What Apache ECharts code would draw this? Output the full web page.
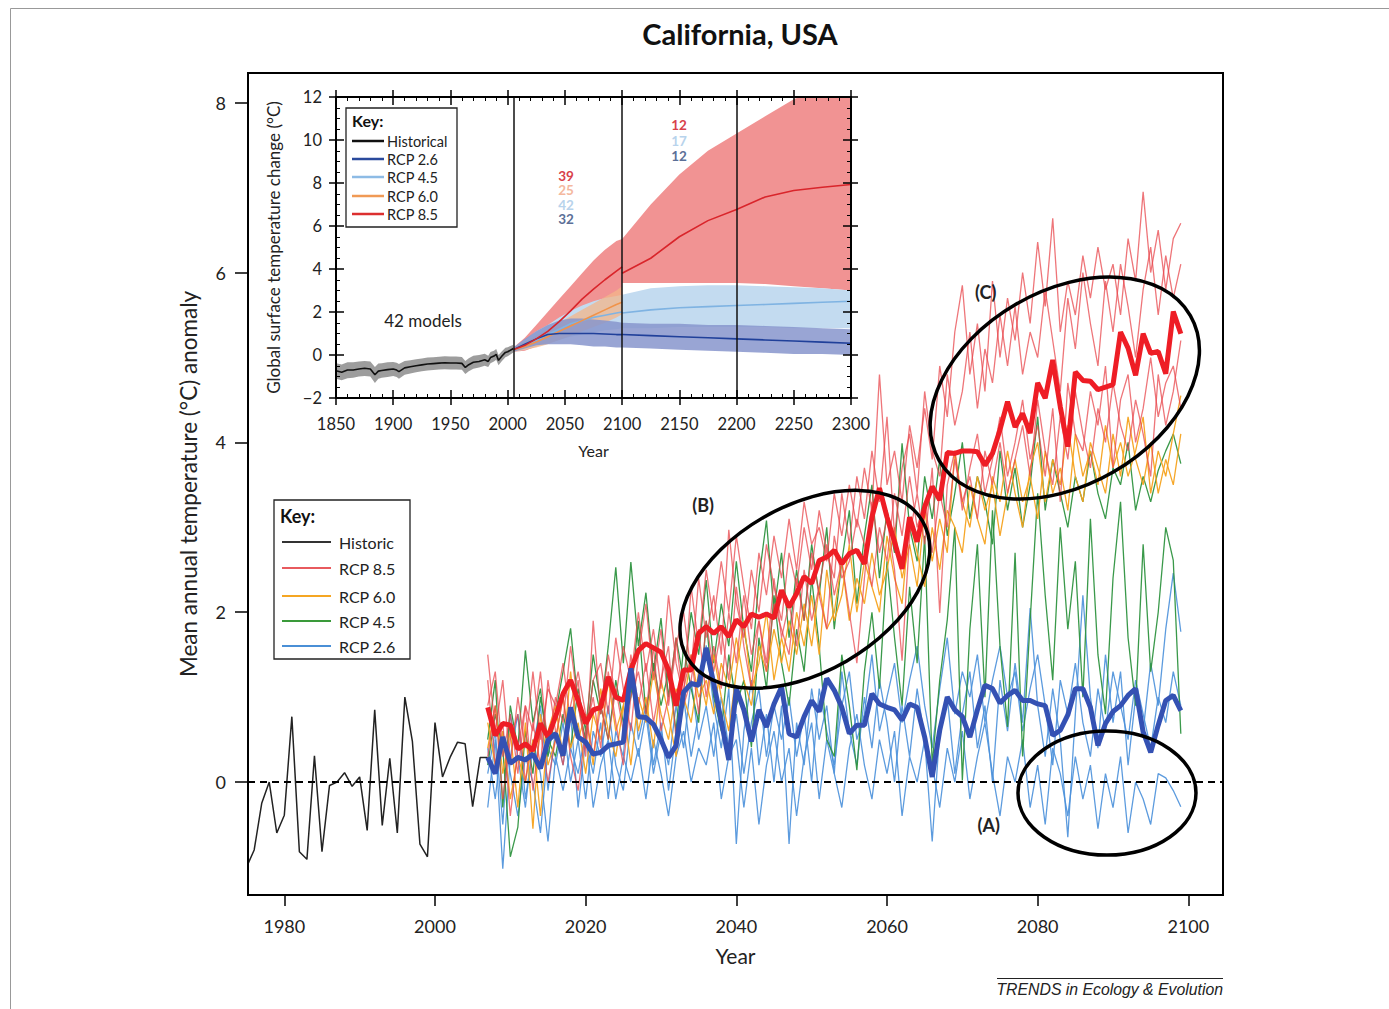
<!DOCTYPE html>
<html><head><meta charset="utf-8">
<script src="https://cdn.jsdelivr.net/npm/echarts@6/dist/echarts.min.js"></script>
<style>html,body{margin:0;padding:0;background:#fff}#c{width:1389px;height:1009px}</style>
</head><body><div id="c"></div>
<script>
// ---------------- MAIN CHART DATA ----------------
const mainXTicks = [1980, 2000, 2020, 2040, 2060, 2080, 2100];
const mainYTicks = [0, 2, 4, 6, 8];

const histYears = [1975,1976,1977,1978,1979,1980,1981,1982,1983,1984,1985,1986,1987,1988,1989,1990,1991,1992,1993,1994,1995,1996,1997,1998,1999,2000,2001,2002,2003,2004,2005,2006,2007];
const histValues = [-1.0,-0.80,-0.25,0.0,-0.60,-0.39,0.77,-0.82,-0.91,0.31,-0.82,-0.04,0.0,0.11,-0.05,0.06,-0.57,0.85,-0.51,0.28,-0.60,1.0,0.48,-0.73,-0.88,0.70,0.06,0.29,0.47,0.45,-0.29,0.29,0.29];

const projYears = [2007,2008,2009,2010,2011,2012,2013,2014,2015,2016,
2017,2018,2019,2020,2021,2022,2023,2024,2025,2026,
2027,2028,2029,2030,2031,2032,2033,2034,2035,2036,
2037,2038,2039,2040,2041,2042,2043,2044,2045,2046,
2047,2048,2049,2050,2051,2052,2053,2054,2055,2056,
2057,2058,2059,2060,2061,2062,2063,2064,2065,2066,
2067,2068,2069,2070,2071,2072,2073,2074,2075,2076,
2077,2078,2079,2080,2081,2082,2083,2084,2085,2086,
2087,2088,2089,2090,2091,2092,2093,2094,2095,2096,
2097,2098,2099];

const rcp85Mean = [0.88,0.55,0.69,0.67,0.39,0.45,0.37,0.69,0.53,0.77,
1.04,1.20,0.96,0.69,0.85,0.88,1.24,1.00,0.96,1.32,
1.55,1.63,1.58,1.53,1.32,0.90,1.32,1.32,1.75,1.83,
1.75,1.83,1.71,1.91,1.83,1.98,1.94,1.98,1.93,2.26,
2.06,2.22,2.42,2.34,2.61,2.65,2.73,2.57,2.69,2.73,
2.57,3.12,3.46,3.12,2.83,2.51,3.12,2.83,3.24,3.48,
3.32,3.88,3.87,3.90,3.90,3.89,3.73,3.87,4.15,4.48,
4.18,4.34,4.11,4.70,4.52,4.97,4.42,3.95,4.83,4.73,
4.72,4.62,4.65,4.68,5.30,5.11,4.79,5.28,5.05,5.07,
4.81,5.54,5.28];

const rcp26Mean = [0.29,0.10,0.53,0.22,0.29,0.26,0.33,0.16,0.49,0.57,
0.31,0.88,0.53,0.47,0.33,0.35,0.43,0.45,0.47,1.34,
0.77,0.76,0.68,0.50,0.29,0.43,1.06,1.16,1.14,1.58,
1.16,0.72,0.26,1.10,0.85,0.48,0.85,0.65,0.92,1.12,
0.57,0.53,0.77,0.96,0.83,1.22,1.08,0.88,0.57,0.67,
0.67,1.04,0.92,0.88,0.85,0.73,0.92,0.88,0.53,0.06,
0.61,1.00,0.85,0.77,0.53,0.85,1.14,1.10,0.93,1.02,
1.08,0.96,0.96,0.92,0.90,0.55,0.61,0.79,1.10,1.10,
0.88,0.43,0.69,0.83,0.90,1.02,1.10,0.59,0.35,0.67,
0.96,1.02,0.84];

const rcp85Run1 = [1.5,0.6,1.2,0.2,1.0,0.4,1.3,0.5,1.1,0.9,
1.4,0.7,1.2,0.3,1.9,0.8,1.5,1.0,1.6,1.2,
2.0,1.3,1.8,1.1,2.2,1.4,1.0,2.3,1.6,2.5,
1.9,2.6,2.0,2.9,2.3,1.8,2.7,2.2,2.9,2.4,
3.1,2.5,3.3,2.8,3.0,2.6,3.4,2.9,3.5,3.0,
3.7,3.2,4.8,3.5,3.9,3.3,4.2,3.7,4.4,3.8,
4.9,4.3,5.3,5.85,4.8,5.4,4.6,5.9,5.0,5.7,
5.2,6.0,5.4,6.36,5.6,6.64,5.3,5.9,5.5,6.2,
5.7,6.3,5.8,6.1,5.5,6.4,5.9,6.95,6.0,6.5,
5.8,6.4,6.58];
const rcp85Run2 = [0.9,1.3,0.3,0.8,0.1,0.9,0.6,1.3,0.4,1.0,
0.7,1.6,0.9,0.4,1.2,1.4,0.8,1.7,1.1,0.6,
1.5,2.1,1.2,1.8,0.9,1.6,2.0,1.3,2.4,1.7,
2.2,1.5,2.97,2.1,1.7,2.5,2.0,2.8,2.3,1.9,
2.7,2.3,3.0,2.5,3.2,2.7,2.4,3.4,2.8,3.6,
3.1,3.9,3.3,4.3,2.9,3.7,4.1,3.4,4.6,3.9,
3.6,4.8,4.2,4.6,5.3,4.4,5.1,4.7,5.5,4.9,
5.6,4.8,5.3,5.0,5.8,5.2,4.6,5.7,5.1,6.0,
5.4,4.9,5.9,5.3,6.1,5.6,5.0,5.8,6.3,5.5,
6.2,5.7,6.1];
const rcp85Run3 = [0.3,0.9,-0.2,0.5,0.8,0.0,0.7,0.2,1.2,0.6,
0.2,0.9,1.3,0.8,0.3,0.9,0.5,1.1,0.6,1.5,
0.9,1.4,0.7,1.2,1.6,0.5,1.1,1.5,0.8,1.9,
1.3,1.8,1.2,2.3,1.6,1.1,1.9,1.4,2.4,1.7,
2.1,1.6,2.5,1.9,2.3,2.8,2.2,2.6,2.0,1.4,
2.4,3.3,2.7,3.1,2.5,1.43,2.9,3.4,2.8,3.7,
1.99,3.5,3.9,3.2,3.7,4.1,3.4,3.8,4.3,3.6,
4.0,4.5,3.8,4.2,3.6,4.4,3.3,4.7,4.1,3.9,
4.6,4.2,4.9,3.7,4.5,4.8,4.0,4.4,5.0,4.3,
4.7,4.9,4.4];
const rcp85Run4 = [1.2,0.2,0.7,-0.4,0.4,0.9,-0.1,0.6,0.0,0.5,
1.0,0.3,-0.1,0.6,1.0,0.4,1.3,0.7,0.2,1.0,
1.3,0.8,1.6,0.6,1.0,1.7,0.9,1.2,1.8,1.0,
1.6,1.1,2.0,1.4,2.2,1.5,1.9,1.3,2.1,1.8,
1.5,2.4,1.9,2.7,2.2,1.8,2.9,2.4,2.6,3.1,
2.8,2.3,3.0,2.6,3.4,2.9,3.6,3.0,3.3,2.7,
3.4,3.0,3.8,3.3,3.6,3.1,3.9,3.5,4.0,3.4,
3.8,4.2,3.6,4.5,3.9,3.5,4.3,3.8,4.6,4.1,
3.7,4.4,4.0,4.7,4.2,3.9,4.5,4.1,3.6,4.8,
4.2,4.6,5.2];

const rcp60Run1 = [0.4,0.9,0.1,0.6,-0.3,0.7,-0.55,0.8,0.2,0.5,
1.0,0.4,0.7,0.1,0.8,0.5,1.2,0.6,0.9,0.2,
1.0,0.7,1.3,0.8,0.5,1.1,0.9,1.5,1.0,1.2,
0.8,1.4,1.1,1.7,1.2,0.9,1.6,1.3,1.8,1.4,
1.9,1.5,2.1,1.6,2.3,1.8,2.0,2.6,1.9,2.4,
2.1,2.7,2.2,2.5,3.0,2.4,2.8,2.3,3.2,2.6,
3.1,2.7,3.9,3.3,3.0,3.6,3.2,3.5,2.9,3.4,
3.8,3.3,3.6,3.1,3.9,3.4,3.7,3.2,4.1,3.6,
3.9,3.5,4.2,3.7,4.0,3.6,3.9,4.3,3.4,3.9,
3.6,4.1,4.55];
const rcp60Run2 = [0.7,0.2,0.6,-0.2,0.3,0.0,0.5,-0.4,0.6,0.9,
0.3,1.3,0.5,0.8,0.2,1.1,0.6,0.3,0.9,1.4,
0.6,1.0,0.4,1.2,0.8,0.3,1.0,0.7,1.3,0.9,
1.5,1.0,0.6,1.3,1.9,1.1,1.4,2.0,1.2,1.7,
1.3,2.0,1.6,2.2,1.5,2.5,1.9,2.2,2.8,2.0,
2.6,2.3,2.0,2.9,2.4,2.1,3.1,2.7,2.3,3.0,
2.5,3.2,3.0,2.7,3.5,3.1,2.8,3.6,3.3,3.9,
3.4,3.0,3.7,4.0,3.3,3.8,3.5,4.2,3.6,3.3,
4.0,3.7,3.4,4.1,3.6,4.3,3.8,3.5,4.0,3.4,
3.8,3.5,4.1];

const rcp45Run1 = [0.5,1.2,-0.3,0.9,0.4,1.55,0.7,1.1,0.3,0.8,
1.3,1.81,0.9,0.5,1.2,0.8,1.6,2.53,1.4,2.59,
1.6,2.23,1.3,1.93,1.0,1.7,1.2,2.0,1.5,2.38,
1.4,2.1,1.6,2.6,1.8,1.3,2.4,3.08,2.0,2.7,
1.7,2.5,1.9,2.8,2.2,3.0,1.8,2.6,3.2,2.1,
2.9,3.5,2.4,3.2,2.7,3.99,3.0,2.6,3.6,3.1,
3.8,2.9,3.4,4.0,3.1,3.6,3.3,2.8,3.9,3.2,
3.7,3.0,3.5,4.3,3.2,3.8,3.4,3.0,3.6,3.3,
3.9,3.4,3.1,3.7,3.5,4.0,3.2,3.6,3.3,3.67,
3.9,4.1,3.75];
const rcp45Run2 = [0.2,0.8,0.4,-0.88,-0.53,0.6,0.1,1.0,0.5,0.3,
0.8,0.4,1.1,0.6,1.5,0.9,0.5,1.2,0.7,1.0,
1.9,0.8,1.4,0.9,1.3,0.6,1.6,1.1,0.7,1.9,
1.0,0.6,1.5,0.9,1.2,0.41,1.7,1.1,2.2,1.4,
0.9,1.8,1.3,2.4,1.6,0.5,0.3,1.5,0.9,0.14,
1.3,2.0,1.1,2.6,1.7,0.9,2.3,1.4,2.9,0.2,
1.2,1.91,3.0,0.02,1.8,2.8,1.0,3.2,1.6,0.65,
2.7,0.3,1.9,3.4,2.2,1.2,3.0,1.8,2.6,1.0,
3.1,1.5,0.8,2.4,3.3,1.7,0.9,2.8,1.3,2.0,
3.0,2.61,0.57];

const rcp26Run1 = [-0.3,0.5,-1.02,0.3,0.8,-0.2,0.4,0.9,-0.1,0.6,
0.2,0.8,-0.3,0.5,0.1,0.7,-0.2,0.6,0.3,1.4,
0.5,0.9,0.2,0.7,-0.1,0.6,1.0,0.3,0.8,1.61,
0.9,0.4,1.1,-0.73,0.6,1.2,0.2,0.8,0.0,0.9,
-0.73,0.7,0.2,1.1,0.5,0.9,0.1,1.3,0.6,0.2,
1.0,0.4,1.2,0.7,0.0,0.9,0.3,1.1,0.5,-0.7,
0.6,1.0,0.1,0.8,1.3,0.4,0.9,0.0,1.2,0.6,
1.4,0.7,2.05,0.9,0.3,1.1,0.5,-0.65,0.8,2.2,
1.0,0.4,1.5,0.7,1.3,0.2,1.0,0.6,1.4,0.9,
1.8,2.46,1.77];
const rcp26Run2 = [0.4,-0.2,0.6,0.1,-0.4,0.3,0.0,-0.6,0.4,0.2,
0.7,0.0,0.5,-0.2,0.6,0.3,0.9,0.2,-0.1,0.7,
0.3,0.8,0.1,0.6,0.2,0.9,0.4,1.2,0.5,0.9,
0.3,1.0,0.4,0.8,0.1,0.7,1.1,0.3,0.9,0.5,
1.0,0.3,0.8,0.0,1.1,0.6,0.2,0.9,1.3,0.5,
0.8,1.5,0.6,1.0,1.4,0.7,1.2,1.6,0.9,0.4,
1.1,1.7,0.8,1.3,1.0,1.5,0.7,1.2,1.6,1.0,
1.3,0.6,1.1,1.5,0.9,0.2,1.2,0.8,1.4,0.7,
0.3,1.1,0.6,1.3,0.9,0.5,1.2,0.8,0.4,1.0,
0.7,1.3,0.9];
const rcp26Run3 = [0.1,0.6,-0.5,0.8,0.3,-0.3,0.5,0.1,-0.7,0.3,
-0.1,0.4,0.1,0.6,-0.3,0.2,0.5,-0.2,0.3,0.0,
0.4,-0.2,0.5,0.1,-0.4,0.3,0.6,0.0,0.4,0.2,
0.7,-0.2,0.3,0.5,-0.3,0.4,-0.5,0.2,0.6,0.0,
0.4,-0.4,0.3,0.7,-0.2,0.5,0.1,-0.3,0.4,0.8,
0.2,-0.2,0.5,0.1,0.6,-0.4,0.3,0.0,0.5,0.2,
-0.3,0.4,0.0,0.6,-0.2,0.3,0.7,0.1,-0.4,0.3,
0.0,0.5,-0.3,0.2,-0.5,0.4,0.1,-0.4,0.3,-0.2,
0.2,-0.55,0.1,-0.3,0.3,-0.6,0.0,-0.2,-0.5,0.1,
0.05,-0.1,-0.29];

// ---------------- INSET DATA ----------------
const insetXTicksStep = 50;
const insetHistYears = [1850,1855,1860,1865,1870,1875,1880,1884,1887,1890,1895,1900,1903,1905,1910,1915,1920,1925,1930,1935,1940,1945,1950,1955,1960,1963,1966,1970,1975,1980,1983,1985,1988,1990,1992,1995,1998,2000,2005];
const insetHistMean = [-0.73,-0.80,-0.70,-0.70,-0.65,-0.62,-0.65,-0.92,-0.75,-0.72,-0.68,-0.65,-0.70,-0.77,-0.60,-0.55,-0.50,-0.46,-0.42,-0.40,-0.38,-0.36,-0.37,-0.37,-0.39,-0.58,-0.45,-0.34,-0.30,-0.22,-0.30,-0.12,-0.05,0.03,-0.25,-0.05,0.12,0.15,0.30];
const insetHistLow = [-1.10,-1.18,-1.08,-1.06,-1.00,-0.98,-1.00,-1.30,-1.10,-1.06,-1.02,-0.98,-1.02,-1.10,-0.92,-0.86,-0.80,-0.76,-0.72,-0.70,-0.68,-0.66,-0.67,-0.67,-0.69,-0.88,-0.75,-0.64,-0.58,-0.50,-0.56,-0.38,-0.30,-0.22,-0.48,-0.28,-0.10,-0.06,0.12];
const insetHistHigh = [-0.38,-0.44,-0.34,-0.34,-0.30,-0.28,-0.30,-0.56,-0.40,-0.38,-0.34,-0.32,-0.36,-0.42,-0.28,-0.24,-0.20,-0.16,-0.12,-0.10,-0.08,-0.06,-0.07,-0.07,-0.09,-0.28,-0.15,-0.04,0.00,0.06,-0.04,0.14,0.20,0.28,0.00,0.18,0.34,0.36,0.48];

const insetYearsA = [2005,2015,2025,2035,2045,2055,2065,2075,2085,2095,2100];
const insetYearsB = [2100,2125,2150,2175,2200,2225,2250,2275,2300];

const in85MeanA = [0.25,0.45,0.75,1.10,1.55,2.05,2.60,3.06,3.50,3.90,4.10];
const in85LowA  = [0.15,0.20,0.40,0.60,0.90,1.20,1.50,1.80,2.10,2.40,2.60];
const in85HighA = [0.35,0.80,1.40,2.00,2.60,3.20,3.80,4.40,4.90,5.30,5.40];
const in85MeanB = [3.80,4.50,5.50,6.25,6.77,7.35,7.65,7.80,7.93];
const in85LowB  = [3.35,3.35,3.35,3.35,3.35,3.30,3.20,3.10,3.00];
const in85HighB = [5.40,7.00,8.40,9.50,10.30,11.10,11.90,12.40,12.60];

const in60MeanA = [0.25,0.40,0.60,0.85,1.10,1.35,1.60,1.85,2.10,2.35,2.45];
const in60LowA  = [0.15,0.25,0.35,0.50,0.70,0.90,1.10,1.30,1.50,1.75,1.90];
const in60HighA = [0.35,0.60,0.90,1.20,1.50,1.80,2.10,2.40,2.70,3.00,3.20];

const in45MeanA = [0.25,0.45,0.70,0.95,1.20,1.45,1.60,1.75,1.85,1.95,2.00];
const in45LowA  = [0.15,0.25,0.40,0.55,0.70,0.85,0.95,1.05,1.15,1.20,1.25];
const in45HighA = [0.35,0.70,1.10,1.40,1.75,2.05,2.30,2.50,2.65,2.75,2.80];
const in45MeanB = [1.95,2.10,2.20,2.25,2.30,2.35,2.40,2.45,2.50];
const in45LowB  = [1.25,1.25,1.30,1.30,1.30,1.30,1.25,1.25,1.25];
const in45HighB = [2.80,3.10,3.20,3.25,3.25,3.20,3.15,3.10,3.00];

const in26MeanA = [0.25,0.50,0.75,0.95,1.00,1.00,1.00,1.00,0.98,0.95,0.95];
const in26LowA  = [0.15,0.30,0.45,0.50,0.50,0.50,0.45,0.40,0.40,0.35,0.35];
const in26HighA = [0.35,0.75,1.10,1.40,1.60,1.70,1.70,1.65,1.60,1.55,1.50];
const in26MeanB = [0.95,0.90,0.85,0.80,0.75,0.70,0.65,0.60,0.55];
const in26LowB  = [0.35,0.30,0.25,0.20,0.15,0.10,0.05,0.05,0.00];
const in26HighB = [1.50,1.45,1.45,1.40,1.40,1.35,1.30,1.25,1.20];

const insetPeriodLines = [2005, 2100, 2200];

// ---------------- BUILD ----------------
const FONT = 'Lato, "Open Sans", "DejaVu Sans", sans-serif';
const chart = echarts.init(document.getElementById('c'), null, {renderer: 'svg'});
const pairs = (xs, ys) => xs.map((x, i) => [x, ys[i]]);

function mainLine(data, color, width, z, opacity) {
  return {type: 'line', xAxisIndex: 0, yAxisIndex: 0, data: pairs(projYears, data), symbol: 'none',
    silent: true, z: z, lineStyle: {color: color, width: width, opacity: opacity == null ? 1 : opacity}};
}
function insetLine(xs, ys, color, width, z) {
  return {type: 'line', xAxisIndex: 1, yAxisIndex: 1, data: pairs(xs, ys), symbol: 'none', silent: true, z: z,
    lineStyle: {color: color, width: width}};
}
// band polygon between lo and hi, drawn through the inset axes
function insetBand(xs, lo, hi, color, opacity, z) {
  return {type: 'custom', coordinateSystem: 'cartesian2d', xAxisIndex: 1, yAxisIndex: 1, clip: true, silent: true, z: z,
    data: [[xs[0], lo[0]]],
    renderItem: function (params, api) {
      const pts = [];
      for (let i = 0; i < xs.length; i++) pts.push(api.coord([xs[i], hi[i]]));
      for (let i = xs.length - 1; i >= 0; i--) pts.push(api.coord([xs[i], lo[i]]));
      return {type: 'polygon', shape: {points: pts}, style: {fill: color, opacity: opacity}};
    }};
}

const RED_THIN = '#e8474c', ORANGE = '#f5a21e', GREEN = '#2f9440', LBLUE = '#4a90da';
const series = [
  {type: 'line', xAxisIndex: 0, yAxisIndex: 0, data: pairs(histYears, histValues), symbol: 'none', silent: true, z: 3,
    lineStyle: {color: '#222', width: 1.5},
    markLine: {silent: true, symbol: 'none', label: {show: false}, animation: false,
      lineStyle: {color: '#000', width: 2, type: [7, 5]}, data: [{yAxis: 0}]}},
  mainLine(rcp26Run1, LBLUE, 1.3, 3, 0.9),
  mainLine(rcp26Run2, LBLUE, 1.3, 3, 0.9),
  mainLine(rcp26Run3, LBLUE, 1.3, 3, 0.9),
  mainLine(rcp45Run1, GREEN, 1.3, 3, 0.95),
  mainLine(rcp45Run2, GREEN, 1.3, 3, 0.95),
  mainLine(rcp60Run1, ORANGE, 1.3, 3, 0.95),
  mainLine(rcp60Run2, ORANGE, 1.3, 3, 0.95),
  mainLine(rcp85Run1, RED_THIN, 1.3, 3, 0.75),
  mainLine(rcp85Run2, RED_THIN, 1.3, 3, 0.75),
  mainLine(rcp85Run3, RED_THIN, 1.3, 3, 0.75),
  mainLine(rcp85Run4, RED_THIN, 1.3, 3, 0.75),
  mainLine(rcp85Mean, '#ee1d25', 5, 4),
  mainLine(rcp26Mean, '#3451b3', 5, 5),
];
// inset bands
series.push(insetBand(insetHistYears, insetHistLow, insetHistHigh, '#8c8c8c', 0.85, 2));
series.push(insetBand(insetYearsA, in85LowA, in85HighA, '#f19393', 1, 2));
series.push(insetBand(insetYearsB, in85LowB, in85HighB, '#f19393', 1, 2));
series.push(insetBand(insetYearsA, in45LowA, in45HighA, '#c3dbf0', 1, 2));
series.push(insetBand(insetYearsB, in45LowB, in45HighB, '#c3dbf0', 1, 2));
series.push(insetBand(insetYearsA, in60LowA, in60HighA, '#f3b58a', 0.75, 2));
series.push(insetBand(insetYearsA, in26LowA, in26HighA, '#8795cc', 0.85, 2));
series.push(insetBand(insetYearsB, in26LowB, in26HighB, '#8795cc', 0.85, 2));
series.push(insetLine(insetHistYears, insetHistMean, '#111', 1.6, 3));
series.push(insetLine(insetYearsA, in45MeanA, '#7fb3e2', 1.6, 3));
series.push(insetLine(insetYearsB, in45MeanB, '#7fb3e2', 1.6, 3));
series.push(insetLine(insetYearsA, in60MeanA, '#f0934a', 1.6, 3));
series.push(insetLine(insetYearsA, in26MeanA, '#20409a', 1.6, 3));
series.push(insetLine(insetYearsB, in26MeanB, '#20409a', 1.6, 3));
series.push(insetLine(insetYearsA, in85MeanA, '#d9252b', 1.6, 3));
const lastInset = insetLine(insetYearsB, in85MeanB, '#d9252b', 1.6, 3);
lastInset.markLine = {silent: true, symbol: 'none', label: {show: false}, animation: false,
  lineStyle: {color: '#111', width: 1.5, type: 'solid'}, data: insetPeriodLines.map(v => ({xAxis: v}))};
series.push(lastInset);

const axisFont = {fontFamily: FONT, color: '#222'};
const blk = {color: '#000', width: 2};
const insetIn = (extra) => Object.assign({
  type: 'value', min: 1850, max: 2300, interval: insetXTicksStep, z: 6,
  axisLine: {show: true, onZero: false, lineStyle: blk},
  axisTick: {show: true, inside: true, length: 8, lineStyle: {color: '#000', width: 1.5}},
  minorTick: {show: true, splitNumber: 5, length: 4, lineStyle: {color: '#000', width: 1}},
  splitLine: {show: false}, minorSplitLine: {show: false}
}, extra);
const insetOut = (extra) => Object.assign({
  type: 'value', z: 6,
  axisLine: {show: false, onZero: false},
  axisTick: {show: true, inside: false, length: 7, lineStyle: {color: '#000', width: 1.5}},
  axisLabel: {show: false}, splitLine: {show: false}
}, extra);
const minusFmt = v => (v < 0 ? '\u2212' + Math.abs(v) : String(v));

const option = {
  animation: false,
  backgroundColor: '#fff',
  title: {text: 'California, USA', left: 735, textAlign: 'center', top: 14,
    textStyle: {fontFamily: FONT, fontSize: 29, fontWeight: 'bold', color: '#111'}},
  grid: [
    {left: 248, top: 73, width: 975, height: 822, show: true, borderColor: '#000', borderWidth: 2, backgroundColor: 'transparent', z: 0},
    {left: 336, top: 97, width: 515, height: 301, show: true, borderWidth: 0, backgroundColor: '#fff', z: 1},
    {left: 336, top: 97, width: 515, height: 301, show: false}
  ],
  xAxis: [
    {gridIndex: 0, type: 'value', min: 1975.18, max: 2104.6, z: 6,
      name: 'Year', nameLocation: 'middle', nameGap: 50,
      nameTextStyle: Object.assign({fontSize: 21}, axisFont),
      axisLine: {show: true, onZero: false, lineStyle: blk},
      axisTick: {show: true, inside: false, length: 11, lineStyle: {color: '#000', width: 1.5}, customValues: mainXTicks},
      axisLabel: Object.assign({show: true, margin: 22, fontSize: 18, customValues: mainXTicks, formatter: v => String(v)}, axisFont),
      splitLine: {show: false}},
    insetIn({gridIndex: 1, position: 'bottom',
      name: 'Year', nameLocation: 'middle', nameGap: 44, nameTextStyle: Object.assign({fontSize: 16}, axisFont),
      axisLabel: Object.assign({show: true, margin: 17, fontSize: 16.5, formatter: v => String(v)}, axisFont)}),
    insetIn({gridIndex: 1, position: 'top', axisLabel: {show: false}}),
    insetOut({gridIndex: 2, position: 'bottom', min: 1850, max: 2300, interval: insetXTicksStep}),
    insetOut({gridIndex: 2, position: 'top', min: 1850, max: 2300, interval: insetXTicksStep})
  ],
  yAxis: [
    {gridIndex: 0, type: 'value', min: -1.33, max: 8.35, z: 6,
      name: 'Mean annual temperature (\u00b0C) anomaly', nameLocation: 'middle', nameGap: 48, nameRotate: 90,
      nameTextStyle: Object.assign({fontSize: 22.5}, axisFont),
      axisLine: {show: true, onZero: false, lineStyle: blk},
      axisTick: {show: true, inside: false, length: 13, lineStyle: {color: '#000', width: 1.5}, customValues: mainYTicks},
      axisLabel: Object.assign({show: true, margin: 22, fontSize: 18, customValues: mainYTicks, formatter: v => String(v)}, axisFont),
      splitLine: {show: false}},
    insetIn({gridIndex: 1, position: 'left', min: -2, max: 12, interval: 2,
      minorTick: {show: true, splitNumber: 4, length: 4, lineStyle: {color: '#000', width: 1}},
      name: 'Global surface temperature change (\u00b0C)', nameLocation: 'middle', nameGap: 54, nameRotate: 90,
      nameTextStyle: Object.assign({fontSize: 17}, axisFont),
      axisLabel: Object.assign({show: true, margin: 14, fontSize: 16.5, formatter: minusFmt}, axisFont)}),
    insetIn({gridIndex: 1, position: 'right', min: -2, max: 12, interval: 2,
      minorTick: {show: true, splitNumber: 4, length: 4, lineStyle: {color: '#000', width: 1}},
      axisLabel: {show: false}}),
    insetOut({gridIndex: 2, position: 'left', min: -2, max: 12, interval: 2}),
    insetOut({gridIndex: 2, position: 'right', min: -2, max: 12, interval: 2})
  ],
  series: series
};
chart.setOption(option);

// ---------------- ANNOTATIONS ----------------
const ellipses = [
  {c: [2089.2, -0.13], rx: 89, ry: 62, rot: 0},
  {c: [2049.1, 2.27], rx: 136, ry: 83, rot: Math.PI / 6},
  {c: [2083.6, 4.64], rx: 145, ry: 97, rot: Math.PI / 6}
];
const labels = [
  {t: '(C)', c: [2073.1, 5.77]},
  {t: '(B)', c: [2035.6, 3.26]},
  {t: '(A)', c: [2073.5, -0.51]}
];
const g = [];
g.push({type: 'rect', z: 100, shape: {x: 10.5, y: 8.5, width: 1400, height: 1020}, style: {fill: 'none', stroke: '#999', lineWidth: 1}});
ellipses.forEach(e => {
  const p = chart.convertToPixel({gridIndex: 0}, e.c);
  g.push({type: 'ellipse', z: 100, x: p[0], y: p[1], rotation: e.rot, shape: {cx: 0, cy: 0, rx: e.rx, ry: e.ry},
    style: {fill: 'none', stroke: '#000', lineWidth: 3.5}});
});
labels.forEach(l => {
  const p = chart.convertToPixel({gridIndex: 0}, l.c);
  g.push({type: 'text', z: 100, x: p[0], y: p[1], style: {text: l.t, font: 'bold 18px ' + FONT, fill: '#222', align: 'center', verticalAlign: 'middle'}});
});
// main key
const mainKey = [['Historic', '#333'], ['RCP 8.5', '#e85a5e'], ['RCP 6.0', '#f5a623'], ['RCP 4.5', '#3a9a3a'], ['RCP 2.6', '#4a8fd6']];
const mainKeyY = [542, 568, 596, 621, 646];
g.push({type: 'rect', z: 100, shape: {x: 274, y: 500, width: 136, height: 159}, style: {fill: '#fff', stroke: '#222', lineWidth: 1.3}});
g.push({type: 'text', z: 101, x: 280, y: 516, style: {text: 'Key:', font: 'bold 18px ' + FONT, fill: '#111', verticalAlign: 'middle'}});
mainKey.forEach((k, i) => {
  g.push({type: 'line', z: 101, shape: {x1: 282, y1: mainKeyY[i], x2: 331, y2: mainKeyY[i]}, style: {stroke: k[1], lineWidth: 2}});
  g.push({type: 'text', z: 101, x: 339, y: mainKeyY[i], style: {text: k[0], font: '16px ' + FONT, fill: '#222', verticalAlign: 'middle'}});
});
// inset key
const insetKey = [['Historical', '#111'], ['RCP 2.6', '#2a4a9c'], ['RCP 4.5', '#8dbbe5'], ['RCP 6.0', '#f09a55'], ['RCP 8.5', '#dc2f2f']];
const insetKeyY = [141, 159, 177, 196, 214];
g.push({type: 'rect', z: 100, shape: {x: 346, y: 108, width: 111, height: 119}, style: {fill: '#fff', stroke: '#222', lineWidth: 1.3}});
g.push({type: 'text', z: 101, x: 352, y: 120, style: {text: 'Key:', font: 'bold 16px ' + FONT, fill: '#111', verticalAlign: 'middle'}});
insetKey.forEach((k, i) => {
  g.push({type: 'line', z: 101, shape: {x1: 352, y1: insetKeyY[i], x2: 384, y2: insetKeyY[i]}, style: {stroke: k[1], lineWidth: 2.5}});
  g.push({type: 'text', z: 101, x: 387, y: insetKeyY[i], style: {text: k[0], font: '14.5px ' + FONT, fill: '#222', verticalAlign: 'middle'}});
});
// inset model counts
const counts1 = [['39', '#d8414b', 176], ['25', '#f4b89e', 190], ['42', '#b8d3ec', 205], ['32', '#5b6f97', 219]];
const counts2 = [['12', '#d8414b', 125], ['17', '#b8d3ec', 141], ['12', '#5b6f97', 156]];
counts1.forEach(c => g.push({type: 'text', z: 101, x: 566, y: c[2], style: {text: c[0], font: 'bold 13.5px ' + FONT, fill: c[1], align: 'center', verticalAlign: 'middle'}}));
counts2.forEach(c => g.push({type: 'text', z: 101, x: 679, y: c[2], style: {text: c[0], font: 'bold 13.5px ' + FONT, fill: c[1], align: 'center', verticalAlign: 'middle'}}));
g.push({type: 'text', z: 101, x: 423, y: 320, style: {text: '42 models', font: '17px ' + FONT, fill: '#222', align: 'center', verticalAlign: 'middle'}});
// footer
g.push({type: 'line', z: 101, shape: {x1: 997, y1: 978.5, x2: 1223, y2: 978.5}, style: {stroke: '#222', lineWidth: 1}});
g.push({type: 'text', z: 101, x: 1223, y: 989, style: {text: 'TRENDS in Ecology & Evolution', font: 'italic 15.8px "Liberation Sans Narrow", "Liberation Sans", sans-serif', fill: '#222', align: 'right', verticalAlign: 'middle'}});
chart.setOption({graphic: g});
</script>
</body></html>
